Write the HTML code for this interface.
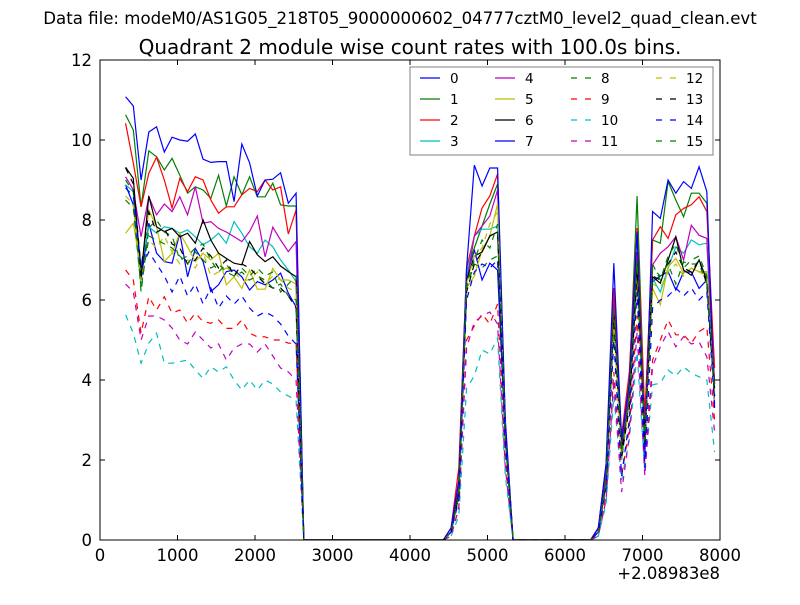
<!DOCTYPE html>
<html><head><meta charset="utf-8"><style>
body{margin:0;background:#fff;}
svg text{font-family:"DejaVu Sans","Liberation Sans",sans-serif;}
</style></head><body>
<svg id="chart" width="800" height="600" xmlns="http://www.w3.org/2000/svg">
<rect width="800" height="600" fill="#fff"/>
<text x="400" y="24" font-size="16.6" text-anchor="middle">Data file: modeM0/AS1G05_218T05_9000000602_04777cztM0_level2_quad_clean.evt</text>
<text x="410" y="54" font-size="20" text-anchor="middle">Quadrant 2 module wise count rates with 100.0s bins.</text>
<defs><clipPath id="clip"><rect x="100" y="60" width="620" height="480"/></clipPath></defs>
<g id="series" clip-path="url(#clip)"></g>
<g id="axes"></g>
<text x="720" y="579" font-size="16.5" text-anchor="end">+2.08983e8</text>
<g id="legend"></g>
</svg>
<script>
const xTicks=[0,1000,2000,3000,4000,5000,6000,7000,8000];
const yTicks=[0,2,4,6,8,10,12];
const tStart=330, tStep=100, nPoints=77;
const seriesNames=["0","1","2","3","4","5","6","7","8","9","10","11","12","13","14","15"];
const seriesColors=["#0000ff","#008000","#ff0000","#00bfbf","#bf00bf","#bfbf00","#000000","#0000ff","#008000","#ff0000","#00bfbf","#bf00bf","#bfbf00","#000000","#0000ff","#008000"];
const seriesDashed=[0,0,0,0,0,0,0,0,1,1,1,1,1,1,1,1];
const seg1=[
[8.88,8.38,6.5,7.92,7.17,6.96,6.92,7.67,6.58,7.29,6.96,6.21,6.38,6.71,6.75,6.58,6.25,6.46,6.38,6.5,6.67,6.17,5.83],
[10.63,10.25,8.33,9.73,9.58,9.25,9.54,9.12,8.67,8.83,8.75,8.54,9.12,8.35,9.08,8.63,9.08,8.58,8.58,8.92,8.38,8.35,8.35],
[10.42,9.42,8.33,9.17,9.57,9.0,8.3,9.04,8.71,9.08,9.0,8.5,8.17,8.33,8.33,8.63,8.79,8.71,9.0,8.75,8.83,7.65,8.25],
[8.88,8.71,6.83,7.83,7.67,7.83,7.79,7.67,7.75,7.58,7.38,7.5,7.67,7.42,7.96,7.67,7.33,7.17,7.5,7.33,7.0,6.75,6.46],
[9.08,8.75,7.58,8.58,8.13,8.4,8.21,8.58,8.13,8.83,7.92,7.96,7.79,7.7,7.58,7.46,7.71,8.1,7.08,7.82,7.5,7.21,7.46],
[7.67,7.92,6.75,8.25,7.83,6.96,7.17,7.67,7.33,6.96,7.17,7.0,7.17,6.38,6.58,6.29,6.75,6.27,6.27,6.79,6.5,6.5,6.4],
[9.32,9.04,6.58,8.6,7.83,7.71,7.79,7.58,7.67,7.42,8.0,7.5,7.17,7.04,6.92,6.88,7.46,7.13,6.96,7.08,6.85,6.71,6.58],
[11.08,10.85,9.0,10.2,10.33,9.7,10.07,10.0,9.97,10.15,9.52,9.44,9.46,9.46,8.46,9.9,9.43,8.6,9.0,9.02,9.18,8.42,8.67],
[9.0,8.7,6.2,7.8,8.0,7.7,7.6,7.0,7.1,7.3,7.4,7.0,6.7,6.9,6.6,6.8,6.6,6.8,6.6,6.7,6.2,6.4,6.6],
[6.75,6.5,5.17,6.08,5.75,6.08,5.67,5.75,5.42,5.67,5.46,5.42,5.5,5.29,5.29,5.5,5.17,5.08,5.08,5.0,5.0,4.92,4.92],
[5.63,5.17,4.42,4.92,5.17,4.42,4.42,4.46,4.5,4.25,4.04,4.33,4.2,4.33,4.0,3.75,4.0,3.75,4.0,3.9,3.7,3.6,3.5],
[6.4,6.2,5.0,5.6,5.6,5.5,5.3,5.0,4.9,5.2,5.0,4.8,4.9,4.5,4.8,4.9,4.9,4.7,4.9,4.6,4.3,4.2,4.0],
[8.6,8.4,6.5,7.5,7.3,7.6,7.2,6.9,7.0,6.8,7.2,6.6,6.7,6.8,6.7,6.5,6.5,6.7,6.4,6.6,6.5,6.3,6.2],
[9.3,8.9,6.8,8.2,7.7,7.8,7.4,7.3,6.9,7.0,7.3,7.1,6.8,7.0,6.6,6.9,6.8,6.6,6.4,6.3,6.3,6.1,5.8],
[8.8,8.6,6.8,7.2,6.9,6.6,6.2,6.6,6.1,6.4,5.9,6.3,5.8,6.1,5.9,6.1,5.8,5.6,5.7,5.6,5.4,5.1,4.9],
[8.5,8.3,6.3,7.6,7.5,7.4,7.3,7.1,6.9,7.2,7.0,6.8,6.9,6.7,6.6,6.7,6.5,6.6,6.5,6.3,6.4,6.1,6.0]];
const seg2=[
[0.2,1.2,6.6,7.25,6.5,6.92,6.75,2.5],[0.2,1.4,6.7,7.3,7.85,8.4,8.9,2.8],[0.3,1.8,6.8,7.6,8.3,8.6,9.15,2.9],[0.2,1.4,6.6,7.6,7.77,7.77,7.85,2.7],
[0.2,1.3,6.4,7.6,7.85,8.1,8.75,2.8],[0.2,1.2,6.3,6.6,7.25,7.6,8.4,2.6],[0.2,1.2,6.5,7.1,7.2,7.6,7.7,2.6],[0.3,1.5,6.8,9.37,8.85,9.3,9.3,3.0],
[0.2,1.1,6.3,6.9,6.8,7.0,7.1,2.4],[0.1,0.8,5.0,5.35,5.65,5.4,5.9,2.0],[0.1,0.6,3.8,4.1,4.75,4.65,5.05,1.6],[0.1,0.8,4.8,5.45,5.6,5.7,5.4,1.8],
[0.2,1.1,6.4,7.1,7.3,7.9,8.2,2.5],[0.2,1.1,6.2,6.9,7.2,7.6,7.7,2.5],[0.2,1.0,6.0,6.7,6.9,6.8,7.0,2.4],[0.2,1.1,6.4,7.0,7.5,7.3,7.9,2.5]];
const seg3=[
[0.2,1.6,6.0,2.0,3.5,6.5,2.5,6.46,6.6,6.71,6.25,6.7,6.7,6.29,6.5,3.6],
[0.3,1.8,6.2,2.4,4.0,8.6,3.0,7.5,7.42,8.96,8.5,8.08,8.67,8.67,8.42,3.9],
[0.3,1.9,6.3,2.6,4.2,7.8,3.1,7.5,7.83,7.54,8.13,8.29,8.38,8.58,8.21,4.3],
[0.2,1.5,5.6,2.2,3.6,6.8,2.6,6.54,6.2,6.79,7.33,7.17,7.5,7.38,7.42,3.6],
[0.2,1.6,5.8,2.3,3.7,7.2,2.8,6.88,7.17,7.33,7.58,7.0,7.87,7.62,7.54,3.9],
[0.2,1.5,5.5,2.1,3.4,6.6,2.5,6.29,5.88,6.83,7.04,6.67,6.79,6.71,6.71,3.7],
[0.2,1.5,5.7,2.2,3.5,6.9,2.6,6.58,6.42,7.0,7.58,6.75,6.62,7.0,6.5,3.8],
[0.3,1.9,6.92,2.5,3.9,7.7,2.1,8.21,8.04,9.0,8.67,8.96,8.79,9.33,8.71,3.3],
[0.2,1.5,5.6,2.0,3.5,7.0,2.4,6.79,6.6,6.9,6.4,6.95,6.9,6.9,6.4,3.6],
[0.1,1.1,4.2,1.6,2.8,5.6,1.9,4.5,5.0,5.5,5.13,5.13,4.92,5.21,5.33,3.0],
[0.1,0.9,3.6,1.5,2.5,4.7,1.7,3.88,3.92,4.25,4.1,4.33,4.17,4.08,4.0,2.2],
[0.1,1.0,4.0,1.2,2.6,5.2,1.6,4.33,4.83,5.21,4.83,5.08,4.9,4.95,4.58,2.7],
[0.2,1.4,5.4,2.0,3.4,6.5,2.4,6.4,6.3,6.7,6.9,6.6,6.8,6.7,6.6,3.5],
[0.2,1.4,5.5,2.1,3.3,6.7,2.4,6.6,6.5,6.9,7.2,6.8,6.7,7.0,6.4,3.6],
[0.2,1.3,5.0,1.6,3.0,6.2,1.8,5.8,6.0,6.1,6.3,6.1,6.3,6.0,6.2,3.4],
[0.2,1.5,5.8,2.2,3.6,6.9,2.5,6.9,6.5,7.1,7.4,6.8,7.0,7.1,6.6,3.7]];
const gap1=19, gap2=11;

const NS="http://www.w3.org/2000/svg";
const X0=100,X1=720,Y0=540,Y1=60;
const xs=v=>X0+(v-0)/8000*(X1-X0);
const ys=v=>Y0-(v-0)/12*(Y0-Y1);
function mk(tag,attrs,parent){const e=document.createElementNS(NS,tag);for(const k in attrs)e.setAttribute(k,attrs[k]);parent.appendChild(e);return e;}
const gS=document.getElementById('series'),gA=document.getElementById('axes'),gL=document.getElementById('legend');
for(let s=0;s<seriesNames.length;s++){
  const vals=seg1[s].concat(new Array(gap1).fill(0),seg2[s],new Array(gap2).fill(0),seg3[s]);
  let d="";
  for(let i=0;i<vals.length;i++){d+=(i?"L":"M")+xs(tStart+i*tStep).toFixed(2)+","+ys(vals[i]).toFixed(2);}
  const p=mk('path',{d:d,fill:"none",stroke:seriesColors[s],"stroke-width":1.2},gS);
  if(seriesDashed[s])p.setAttribute('stroke-dasharray','6,6');
  
  
}
const frame=mk('rect',{x:X0,y:Y1,width:X1-X0,height:Y0-Y1,fill:"none",stroke:"#000","stroke-width":1},gA);


xTicks.forEach(v=>{const x=xs(v);
  mk('line',{x1:x,x2:x,y1:Y0,y2:Y0-5,stroke:"#000"},gA);mk('line',{x1:x,x2:x,y1:Y1,y2:Y1+5,stroke:"#000"},gA);
  const t=mk('text',{x:x,y:Y0+21,"font-size":16.5,"text-anchor":"middle"},gA);t.textContent=v;
  
  });
yTicks.forEach(v=>{const y=ys(v);
  mk('line',{x1:X0,x2:X0+5,y1:y,y2:y,stroke:"#000"},gA);mk('line',{x1:X1,x2:X1-5,y1:y,y2:y,stroke:"#000"},gA);
  const t=mk('text',{x:X0-8,y:y+6,"font-size":16.5,"text-anchor":"end"},gA);t.textContent=v;
  
  });
const lb=mk('rect',{x:410,y:67,width:303,height:88,fill:"#fff",stroke:"#808080","stroke-width":1},gL);


const colX=[420,495,571,656];
for(let s=0;s<seriesNames.length;s++){
  const c=Math.floor(s/4),r=s%4,y=78+r*21,x=colX[c];
  const g=mk('g',{},gL);
  
  
  const l=mk('line',{x1:x,x2:x+20,y1:y,y2:y,stroke:seriesColors[s],"stroke-width":1.2},g);
  if(seriesDashed[s])l.setAttribute('stroke-dasharray','6,8');
  const t=mk('text',{x:x+30,y:y+5,"font-size":13.5},g);t.textContent=seriesNames[s];
}
</script>
</body></html>
